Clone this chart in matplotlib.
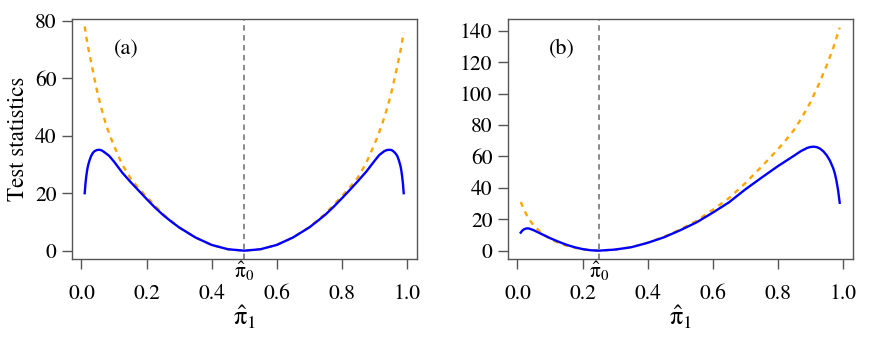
import matplotlib
matplotlib.use("Agg")
import matplotlib.pyplot as plt

plt.rcParams['font.family'] = ['STIXGeneral', 'DejaVu Serif']
plt.rcParams['mathtext.fontset'] = 'stix'

# ---- Panel (a): pi0 = 0.5 ----
pi0_a = 0.5
xa_blue = [0.01, 0.0125, 0.015, 0.0175, 0.02, 0.025, 0.03, 0.035, 0.04, 0.047, 0.055, 0.062,
           0.07, 0.085, 0.1, 0.125, 0.15, 0.175, 0.2, 0.225,
           0.25, 0.275, 0.3, 0.35, 0.4, 0.45, 0.5, 0.55, 0.6, 0.65, 0.7, 0.725, 0.75, 0.775,
           0.8, 0.825, 0.85, 0.875, 0.9, 0.915, 0.93, 0.938, 0.945, 0.953, 0.96, 0.965,
           0.97, 0.975, 0.98, 0.9825, 0.985, 0.9875, 0.99]
ya_blue = [20, 23.5, 26, 28, 29.5, 31.5, 33, 34, 34.6, 35, 35.1, 34.9,
           34.3, 33, 31, 27.2, 24, 21, 18, 15.1,
           12.5, 10.2, 8.1, 4.6, 2.0, 0.5, 0, 0.5, 2.0, 4.6, 8.1, 10.3, 12.6, 15.3,
           18.2, 21.2, 24.3, 27.5, 31.2, 33.3, 34.6, 35.0, 35.1, 35.0, 34.4, 33.8,
           33, 31.5, 29.5, 28, 26, 23.5, 20]
xa_orange = [0.01, 0.015, 0.02, 0.025, 0.03, 0.04, 0.05, 0.0625, 0.075, 0.0875, 0.1, 0.125, 0.15,
             0.175, 0.2, 0.25, 0.3, 0.35, 0.4, 0.45,
             0.5, 0.55, 0.6, 0.65, 0.7, 0.75, 0.8, 0.825, 0.85, 0.875, 0.9, 0.9125, 0.925,
             0.9375, 0.95, 0.96, 0.97, 0.975, 0.98, 0.985, 0.99]
ya_orange = [78, 74.3, 71, 68.2, 65.5, 59.8, 54.5, 49.0, 44, 40.0, 36.5, 30, 25.3,
             21.8, 18.8, 12.8, 8.1, 4.6, 2.0, 0.5,
             0, 0.5, 2.0, 4.6, 8.2, 12.9, 19, 22.1, 25.6, 30.6, 37, 40.5, 44.5,
             49.0, 54, 59.0, 64, 66.8, 69.5, 72.7, 76]

# ---- Panel (b): pi0 = 0.25 ----
pi0_b = 0.25
xb_blue = [0.01, 0.015, 0.02, 0.025, 0.03, 0.035, 0.04, 0.05, 0.06, 0.08, 0.1, 0.125, 0.15,
           0.175, 0.2, 0.225, 0.25, 0.3, 0.35, 0.4,
           0.45, 0.5, 0.55, 0.6, 0.65, 0.7, 0.75, 0.8, 0.85, 0.87, 0.89, 0.9, 0.91, 0.92, 0.93,
           0.94, 0.95, 0.96, 0.97, 0.975, 0.98, 0.985, 0.99]
yb_blue = [11.5, 12.8, 13.6, 14.0, 14.2, 14.1, 13.8, 13.0, 12, 10, 8, 5.8, 3.8,
           2.2, 1.0, 0.25, 0, 0.7, 2.2, 5,
           8.5, 13, 18, 24.2, 30.8, 39, 46.5, 53.8, 60.5, 63.3, 65.4, 66.0, 66.2, 65.9, 64.9,
           63.2, 60.7, 57.3, 52.5, 49.2, 44.5, 38.5, 30.5]
xb_orange = [0.01, 0.02, 0.03, 0.04, 0.05, 0.075, 0.1, 0.125, 0.15, 0.2, 0.25, 0.3, 0.35, 0.4,
             0.45, 0.5, 0.55, 0.6, 0.65, 0.7, 0.75, 0.8, 0.825, 0.85, 0.875, 0.9, 0.925, 0.95,
             0.97, 0.99]
yb_orange = [31, 26.2, 22, 18.8, 16, 11, 7.5, 5.1, 3.2, 0.8, 0, 0.7, 2.2, 5,
             8.8, 13.5, 19, 26, 33.5, 43.0, 53.5, 64.5, 70.5, 77, 85.2, 94.5, 105.5, 118,
             129, 142]

x_ticks = [0.0, 0.2, 0.4, 0.6, 0.8, 1.0]
x_ticklabels = ["0.0", "0.2", "0.4", "0.6", "0.8", "1.0"]
ya_ticks = [0, 20, 40, 60, 80]
yb_ticks = [0, 20, 40, 60, 80, 100, 120, 140]

fig = plt.figure(figsize=(8.72, 3.49), dpi=100)
frame_col = '#555555'

panels = [
    dict(pos=[0.0822, 0.257, 0.3957, 0.6886], xb=xa_blue, yb=ya_blue, xo=xa_orange, yo=ya_orange,
         pi0=pi0_a, yticks=ya_ticks, ylim=(-3.0, 80.6), label='(a)', ly=70, ylabel=True),
    dict(pos=[0.5822, 0.257, 0.3957, 0.6886], xb=xb_blue, yb=yb_blue, xo=xb_orange, yo=yb_orange,
         pi0=pi0_b, yticks=yb_ticks, ylim=(-5.5, 147.5), label='(b)', ly=128, ylabel=False),
]

for p in panels:
    ax = fig.add_axes(p['pos'])
    ax.plot(p['xo'], p['yo'], color='#FFA500', lw=1.7, linestyle=(0, (2.2, 2.2)), zorder=2)
    ax.plot(p['xb'], p['yb'], color='#0000FF', lw=1.7, zorder=3)
    ax.axvline(p['pi0'], color='#808080', lw=1.3, linestyle=(0, (3, 2.5)), zorder=1)
    ax.set_xlim(-0.03, 1.03)
    ax.set_ylim(*p['ylim'])
    ax.set_xticks(x_ticks)
    ax.set_xticklabels(x_ticklabels)
    ax.set_yticks(p['yticks'])
    ax.tick_params(axis='both', direction='out', length=7, width=1, color=frame_col,
                   labelsize=15.5, pad=4)
    ax.tick_params(axis='x', pad=11)
    for s in ax.spines.values():
        s.set_color(frame_col)
        s.set_linewidth(1.0)
    ax.text(0.137, p['ly'], p['label'], fontsize=16, ha='center', va='center')
    ax.text(p['pi0'], -0.004, r'$\hat{\mathrm{\pi}}_0$', transform=ax.get_xaxis_transform(),
            ha='center', va='top', fontsize=15.5)
    ax.set_xlabel(r'$\hat{\mathrm{\pi}}_1$', fontsize=19, labelpad=0)
    if p['ylabel']:
        ax.set_ylabel('Test statistics', fontsize=16.5, labelpad=4)

fig.savefig('out.png', dpi=100)
